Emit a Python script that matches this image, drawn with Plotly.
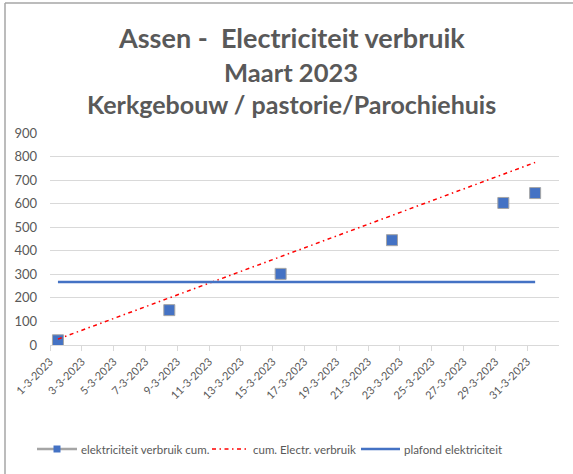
import pandas as pd
import plotly.graph_objects as go

# ---- data ----
meet_datums = ["2023-03-01", "2023-03-08", "2023-03-15", "2023-03-22", "2023-03-29", "2023-03-31"]
verbruik_cum = [20, 148, 302, 445, 603, 645]

lijn_datums = ["2023-03-01", "2023-03-31"]
cum_electr_verbruik = [25, 775]
plafond_elektriciteit = [267, 267]

tick_datums = pd.date_range("2023-03-01", "2023-03-31", freq="2D")
tick_labels = [f"{d.day}-{d.month}-{d.year}" for d in tick_datums]

serie_namen = ["elektriciteit verbruik cum.", "cum. Electr. verbruik", "plafond elektriciteit"]

half_day = pd.Timedelta(hours=12)
x_meet = pd.to_datetime(meet_datums) + half_day
x_lijn = pd.to_datetime(lijn_datums) + half_day

GRAY = "#595959"
BLUE = "#4472C4"
RED = "#FF0000"
FONT = "Lato, 'Open Sans', sans-serif"
RED_DASH = "4px,3.5px,1.5px,3.5px"

fig = go.Figure()
fig.add_trace(go.Scatter(
    x=x_meet, y=verbruik_cum, mode="markers", name=serie_namen[0],
    marker=dict(symbol="square", size=11, color=BLUE, line=dict(color="#A5A5A5", width=1)),
    showlegend=False,
))
fig.add_trace(go.Scatter(
    x=x_lijn, y=cum_electr_verbruik, mode="lines", name=serie_namen[1],
    line=dict(color=RED, width=1.5, dash=RED_DASH), showlegend=False,
))
fig.add_trace(go.Scatter(
    x=x_lijn, y=plafond_elektriciteit, mode="lines", name=serie_namen[2],
    line=dict(color=BLUE, width=2.5), showlegend=False,
))

# pixel helpers (page coordinates -> paper coordinates)
PL, PR = 50, 559
PLOT_TOP, PLOT_BOTTOM = 133, 345
PW, PH = PR - PL, PLOT_BOTTOM - PLOT_TOP
def px_x(p): return (p - PL) / PW
def px_y(p): return (PLOT_BOTTOM - p) / PH

titles = [
    ("Assen -&nbsp; Electriciteit verbruik", 27, 37),
    ("Maart 2023", 25.5, 72),
    ("Kerkgebouw / pastorie/Parochiehuis", 25, 104),
]
for text, size, ypx in titles:
    fig.add_annotation(
        text=f"<b>{text}</b>", x=px_x(291), xref="paper", xanchor="center",
        y=px_y(ypx), yref="paper", yanchor="middle",
        showarrow=False, font=dict(family=FONT, size=size, color=GRAY),
    )

# chart border (left and top)
fig.add_shape(type="line", xref="paper", yref="paper",
              x0=px_x(5), x1=px_x(5), y0=px_y(3), y1=px_y(480),
              line=dict(color="#A6A6A6", width=1.5))
fig.add_shape(type="line", xref="paper", yref="paper",
              x0=px_x(5), x1=px_x(580), y0=px_y(3), y1=px_y(3),
              line=dict(color="#A6A6A6", width=1.5))

# legend (drawn manually for Excel-like spacing)
LY = 449
legend_items = [
    (37, 77, "#A5A5A5", "solid", 2.5, 79),
    (212, 247, RED, RED_DASH, 1.5, 251),
    (361, 400, BLUE, "solid", 2.5, 402),
]
for (x0, x1, col, dash, w, tx), naam in zip(legend_items, serie_namen):
    fig.add_shape(type="line", xref="paper", yref="paper",
                  x0=px_x(x0), x1=px_x(x1), y0=px_y(LY), y1=px_y(LY),
                  line=dict(color=col, width=w, dash=dash))
    fig.add_annotation(text=naam, x=px_x(tx), xref="paper", xanchor="left",
                       y=px_y(LY), yref="paper", yanchor="middle", showarrow=False,
                       font=dict(family=FONT, size=11.5, color=GRAY))
fig.add_shape(type="rect", xref="paper", yref="paper",
              x0=px_x(53.5), x1=px_x(60.5), y0=px_y(LY - 3.5), y1=px_y(LY + 3.5),
              line=dict(width=0), fillcolor=BLUE)

fig.update_layout(
    width=573, height=474,
    margin=dict(l=PL, r=573 - PR, t=PLOT_TOP, b=474 - PLOT_BOTTOM),
    paper_bgcolor="white", plot_bgcolor="white",
    font=dict(family=FONT, size=11, color=GRAY),
    showlegend=False,
)
fig.update_xaxes(
    type="date", range=["2023-03-01", "2023-04-02"],
    tickvals=list(tick_datums), ticktext=tick_labels, tickangle=-45,
    ticks="outside", ticklen=5, tickcolor="#D9D9D9",
    showgrid=False, showline=True, linecolor="#D9D9D9", linewidth=1,
    tickfont=dict(size=11, color=GRAY), zeroline=False,
)
fig.update_yaxes(
    range=[0, 900], dtick=100, showgrid=True, gridcolor="#D9D9D9", gridwidth=1,
    zeroline=False, showline=False, tickfont=dict(size=13, color=GRAY),
    ticklabelstandoff=12,
)

fig.write_html("out.html", config={"displayModeBar": False},
               post_script="document.body.style.margin='0px';")
